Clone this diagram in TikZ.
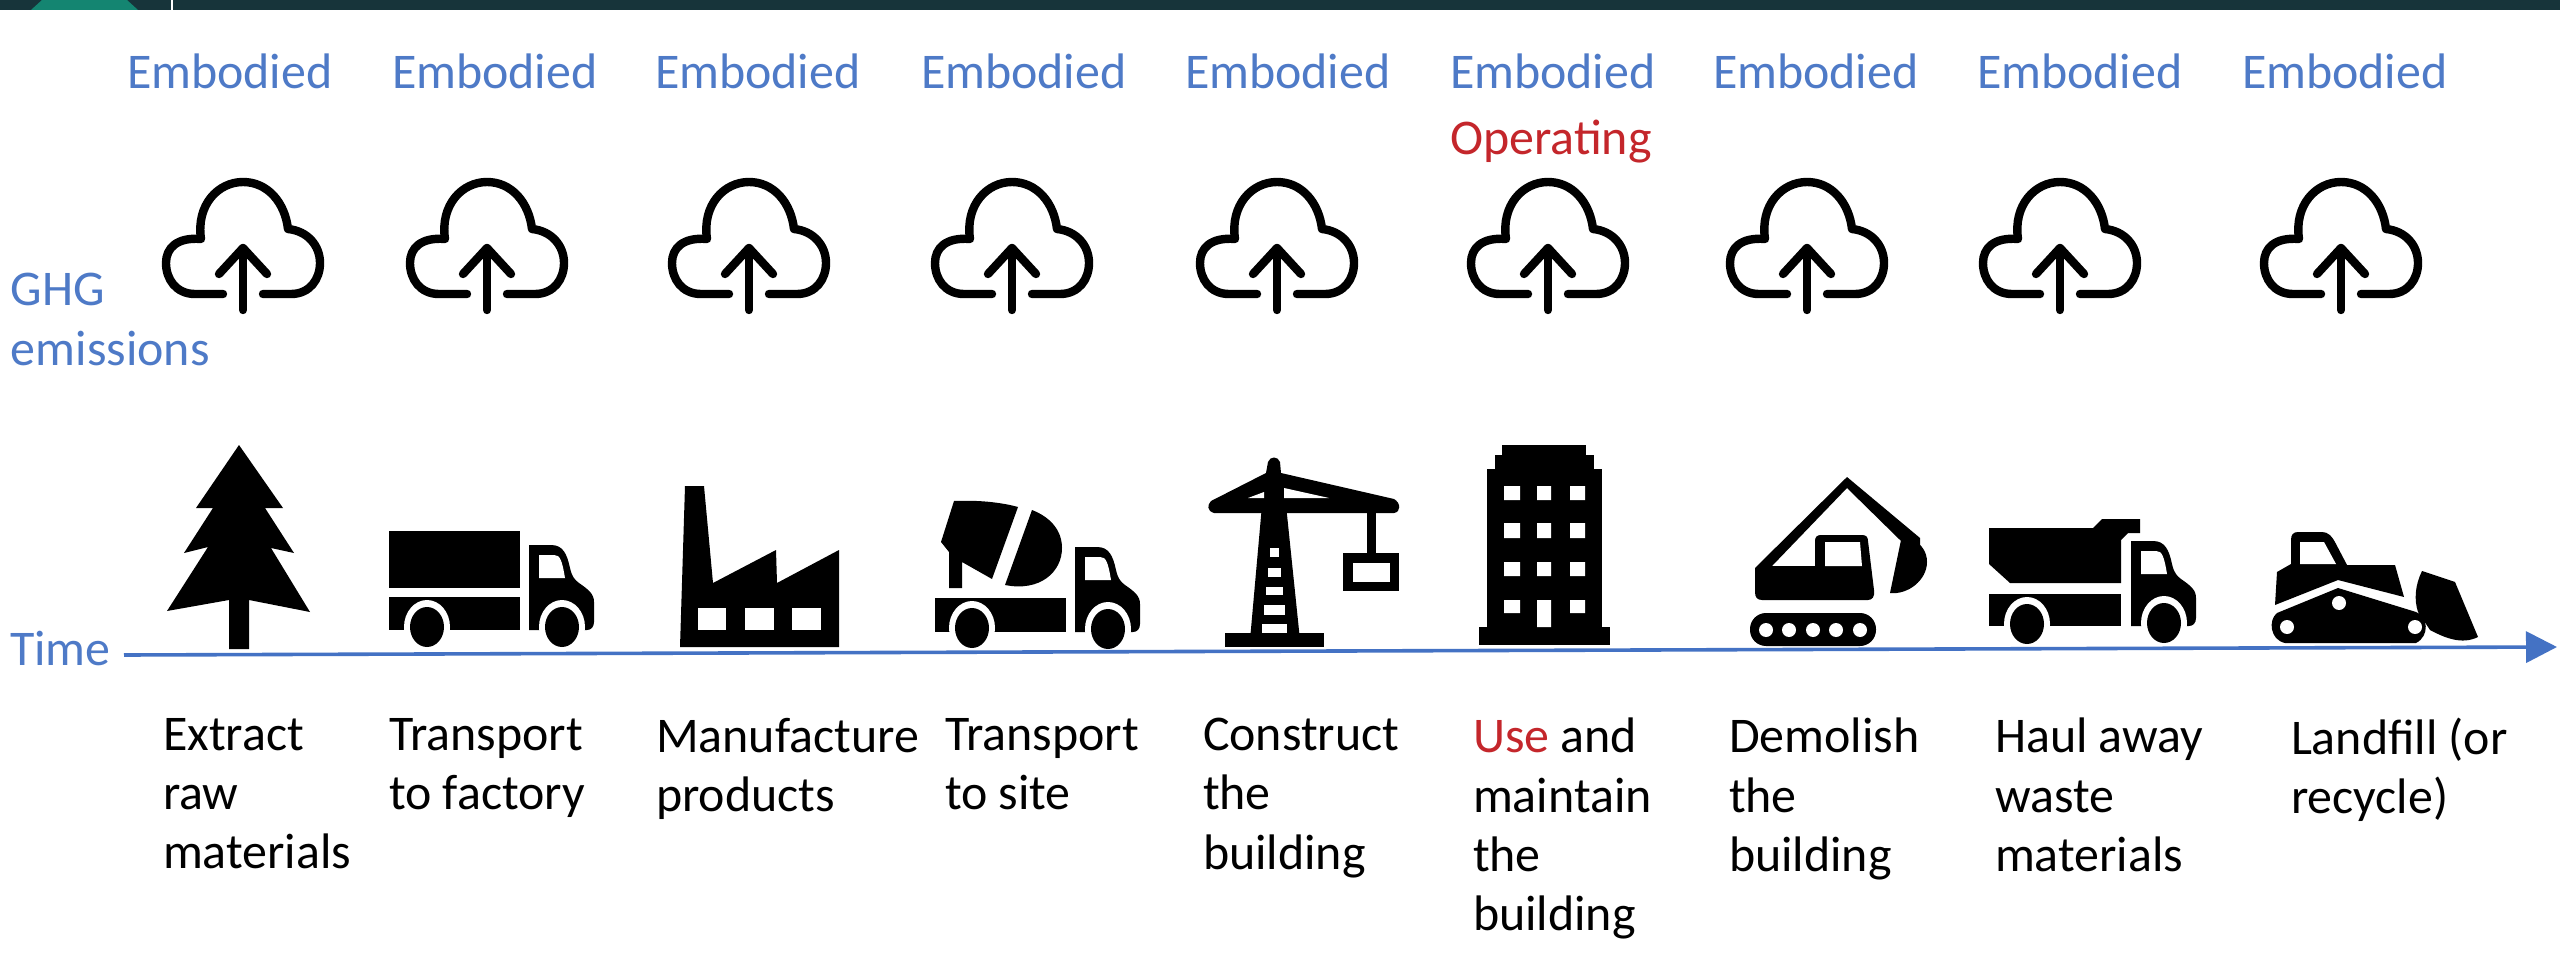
\documentclass[tikz,border=0pt]{standalone}
\usepackage{fontspec}
\setmainfont{Carlito}
\usepackage{tikz}
\usetikzlibrary{arrows.meta}
\usepackage{xcolor}

\definecolor{barDark}{HTML}{17343A}
\definecolor{barTeal}{HTML}{148571}
\definecolor{lifeBlue}{HTML}{4E7AC7}
\definecolor{axisBlue}{HTML}{4472C4}
\definecolor{useRed}{HTML}{C4262B}

\tikzset{
  % cloud with the upward arrow, origin on the arrow axis
  pics/ghgCloud/.style={code={
    \draw[cloudLine]
      (-20,294) -- (-48,294) .. controls (-67,294) and (-77,279) .. (-77,263)
      .. controls (-77,248) and (-66,237) .. (-42,239)
      .. controls (-47,205) and (-25,182) .. (0,182)
      .. controls (25,182) and (42,203) .. (45,229)
      .. controls (65,231) and (77,246) .. (77,263)
      .. controls (77,279) and (67,294) .. (48,294) -- (20,294);
    \draw[cloudLine] (0,310) -- (0,248);
    \draw[cloudLine] (-24,274) -- (0,248) -- (24,274);
  }},
  % road wheel with its white ring
  pics/roadWheel/.style={code={
    \fill[white] (0,0) ellipse [x radius=23, y radius=27];
    \fill[black] (0,0) ellipse [x radius=17, y radius=20];
  }},
  % truck cab, origin at its lower left corner
  pics/truckCab/.style={code={
    \fill[black] (0,0) -- (0,-85) -- (22,-85) .. controls (34,-85) and (38,-76) .. (41,-62)
      .. controls (43,-53) and (46,-50) .. (50,-47) .. controls (60,-40) and (65,-36) .. (65,-28)
      -- (65,-8) .. controls (65,-3) and (62,0) .. (58,0) -- cycle;
    \fill[white] (10,-75) -- (25,-75) .. controls (31,-75) and (33,-70) .. (36,-52) -- (10,-52) -- cycle;
    \pic at (33,-3) {roadWheel};
  }}
}

\begin{document}
\begin{tikzpicture}[
  x=0.025cm,
  y=-0.025cm,
  cloudLine/.style={
    draw=black,
    line width=0.21cm,
    line cap=round,
    line join=round
  },
  every node/.style={inner sep=0pt, outer sep=0pt},
  phaseLabel/.style={
    anchor=base west,
    text=lifeBlue,
    font=\fontsize{35.5}{42.2}\selectfont,
    align=left
  },
  stepText/.style={
    anchor=north west,
    text=black,
    font=\fontsize{35.5}{42.2}\selectfont,
    align=left,
    execute at begin node=\rule{0pt}{26pt}
  },
  arrow/.style={
    -{Triangle[length=7.75mm,width=7.75mm]},
    draw=axisBlue,
    line width=0.09cm
  }
]
\path[use as bounding box, fill=white] (0,0) rectangle (2560,965);

% ------------------------------------------------
% Window bar along the top edge
% ------------------------------------------------
\fill[barDark] (0,0) rectangle (2560,10);
\fill[barTeal] (31,10) -- (42,0) -- (127,0) -- (138,10) -- cycle;
\draw[white, line width=0.04cm] (172,0) -- (172,10);

% ------------------------------------------------
% Top labels and clouds
% ------------------------------------------------
\node[phaseLabel] (embodiedA) at (127,89) {Embodied};
\node[phaseLabel] (embodiedB) at (392,89) {Embodied};
\node[phaseLabel] (embodiedC) at (655,89) {Embodied};
\node[phaseLabel] (embodiedD) at (921,89) {Embodied};
\node[phaseLabel] (embodiedE) at (1185,89) {Embodied};
\node[phaseLabel] (embodiedF) at (1450,89) {Embodied};
\node[phaseLabel] (embodiedG) at (1713,89) {Embodied};
\node[phaseLabel] (embodiedH) at (1977,89) {Embodied};
\node[phaseLabel] (embodiedI) at (2242,89) {Embodied};
\node[phaseLabel, text=useRed] (operating) at (1450,155) {Operating};

\node[phaseLabel] (ghgLabel) at (11,365) {GHG\\emissions};

\pic at (243,0) {ghgCloud};
\pic at (487,0) {ghgCloud};
\pic at (749,0) {ghgCloud};
\pic at (1012,0) {ghgCloud};
\pic at (1277,0) {ghgCloud};
\pic at (1548,0) {ghgCloud};
\pic at (1807,0) {ghgCloud};
\pic at (2060,0) {ghgCloud};
\pic at (2341,0) {ghgCloud};

% ------------------------------------------------
% Icons, left to right
% ------------------------------------------------

% Tree
\fill[black] (239,445) -- (283,508) -- (265,508) -- (294,553) -- (271,548) -- (310,612)
  -- (249,600) -- (249,649) -- (229,649) -- (229,600) -- (167,611) -- (208,547)
  -- (184,553) -- (213,508) -- (196,508) -- cycle;

% Box truck
\fill[black] (389,531) rectangle (520,588);
\fill[black] (389,597) rectangle (520,630);
\pic at (427,627) {roadWheel};
\pic at (529,630) {truckCab};

% Factory
\fill[black] (680,647) -- (685,486) -- (704,486) -- (713,583) -- (776,550) -- (777,583)
  -- (839,550) -- (839,647) -- cycle;
\fill[white] (698,608) rectangle (726,630);
\fill[white] (745,608) rectangle (774,630);
\fill[white] (792,608) rectangle (821,630);

% Mixer truck
\fill[black] (935,598) rectangle (1066,632);
\pic at (972,628) {roadWheel};
\pic at (1075,632) {truckCab};
\fill[black] (954,501) .. controls (977,500) and (1000,502) .. (1018,507) -- (992,579)
  -- (962,562) -- (962,588) -- (949,588) -- (949,552) -- (941,542) -- cycle;
\fill[black] (1032,510) .. controls (1050,517) and (1062,530) .. (1062,548)
  .. controls (1062,572) and (1040,592) .. (1005,585) -- cycle;

% Tower crane
\fill[black] (1225,633) rectangle (1324,647);
\fill[black] (1250,640) -- (1262,505) -- (1266,473) -- (1268,462)
  .. controls (1270,456) and (1278,456) .. (1280,462) -- (1281,473) -- (1286,505) -- (1300,640) -- cycle;
\fill[black] (1266,473) -- (1211,501) .. controls (1207,505) and (1207,511) .. (1214,513)
  -- (1394,513) .. controls (1401,512) and (1401,503) .. (1394,499) -- (1281,473) -- cycle;
\fill[white] (1248,498) -- (1264,492) -- (1264,498) -- cycle;
\fill[white] (1284,488) -- (1329,498) -- (1284,498) -- cycle;
\fill[white] (1270,548) rectangle (1279,557);
\fill[white] (1268,568) rectangle (1281,577);
\fill[white] (1266,587) rectangle (1283,595);
\fill[white] (1264,605) rectangle (1285,615);
\fill[white] (1262,624) rectangle (1287,633);
\fill[black] (1367,513) rectangle (1376,553);
\fill[black] (1343,553) rectangle (1399,591);
\fill[white] (1353,563) rectangle (1390,582);

% Building
\fill[black] (1479,627) rectangle (1610,645);
\fill[black] (1487,469) rectangle (1602,627);
\fill[black] (1495,455) rectangle (1594,469);
\fill[black] (1502,445) rectangle (1586,455);
\fill[white] (1504,486) rectangle (1520,500) (1537,486) rectangle (1551,500) (1570,486) rectangle (1585,500)
  (1504,523) rectangle (1520,538) (1537,523) rectangle (1551,538) (1570,523) rectangle (1585,538)
  (1504,562) rectangle (1520,576) (1537,562) rectangle (1551,576) (1570,562) rectangle (1585,576)
  (1504,600) rectangle (1520,613) (1537,600) rectangle (1551,627) (1570,600) rectangle (1585,613);

% Excavator
\fill[black] (1755,568) -- (1847,477) -- (1920,538) -- (1920,555) -- (1900,540) -- (1847,488) -- (1772,566)
  -- (1815,566) -- (1815,541) .. controls (1815,537) and (1817,535) .. (1821,535) -- (1862,535)
  .. controls (1866,535) and (1868,537) .. (1868,541) -- (1874,590)
  .. controls (1875,597) and (1872,600) .. (1868,600) -- (1762,600)
  .. controls (1757,600) and (1755,597) .. (1755,592) -- cycle;
\fill[white] (1825,542) -- (1860,542) -- (1862,566) -- (1825,566) -- cycle;
\fill[black] (1901,540) -- (1912,538) .. controls (1922,545) and (1927,552) .. (1927,562)
  .. controls (1927,580) and (1908,595) .. (1890,593) -- cycle;
\fill[black, rounded corners=0.4cm] (1750,613) rectangle (1876,646);
\fill[white] (1766,630) circle [radius=7] (1789,630) circle [radius=7] (1813,630) circle [radius=7]
  (1836,630) circle [radius=7] (1860,630) circle [radius=7];

% Dump truck
\fill[black] (1989,528) -- (2093,528) -- (2102,519) -- (2140,519) -- (2140,533) -- (2128,533)
  -- (2121,540) -- (2121,583) -- (2010,583) -- (1989,564) -- cycle;
\fill[black] (1989,594) rectangle (2121,626);
\pic at (2027,624) {roadWheel};
\pic at (2131,626) {truckCab};

% Bulldozer
\fill[black] (2291,564) -- (2291,540) .. controls (2291,535) and (2293,532) .. (2298,532) -- (2322,532)
  .. controls (2328,532) and (2332,536) .. (2336,544) -- (2347,565) -- (2395,565) -- (2404,597)
  -- (2338,580) -- (2275,605) -- (2277,572) -- cycle;
\fill[white] (2300,542) -- (2324,542) -- (2336,564) -- (2300,564) -- cycle;
\fill[black] (2338,588) -- (2416,612) .. controls (2428,616) and (2430,636) .. (2416,643) -- (2285,643)
  .. controls (2270,640) and (2268,620) .. (2277,613) -- cycle;
\fill[white] (2339,603) circle [radius=7] (2287,627) circle [radius=7] (2415,627) circle [radius=7];
\fill[black] (2422,571) -- (2455,582) -- (2478,637) .. controls (2462,645) and (2445,638) .. (2430,630)
  -- (2418,612) .. controls (2414,600) and (2415,585) .. (2422,571) -- cycle;

% ------------------------------------------------
% Time axis
% ------------------------------------------------
\node[phaseLabel] (timeLabel) at (10,665) {Time};
\coordinate (axisStart) at (124,655);
\coordinate (axisEnd) at (2557,647);
\draw[arrow] (axisStart) -- (axisEnd);

% ------------------------------------------------
% Step captions
% ------------------------------------------------
\node[stepText] (stepA) at (163,718) {Extract\\raw\\materials};
\node[stepText] (stepB) at (389,718) {Transport\\to factory};
\node[stepText] (stepC) at (656,718) {Manufacture\\products};
\node[stepText] (stepD) at (945,718) {Transport\\to site};
\node[stepText] (stepE) at (1203,718) {Construct\\the\\building};
\node[stepText] (stepF) at (1473,718) {\textcolor{useRed}{Use} and\\maintain\\the\\building};
\node[stepText] (stepG) at (1729,718) {Demolish\\the\\building};
\node[stepText] (stepH) at (1995,718) {Haul away\\waste\\materials};
\node[stepText] (stepI) at (2291,718) {Landfill (or\\recycle)};

\end{tikzpicture}
\end{document}
